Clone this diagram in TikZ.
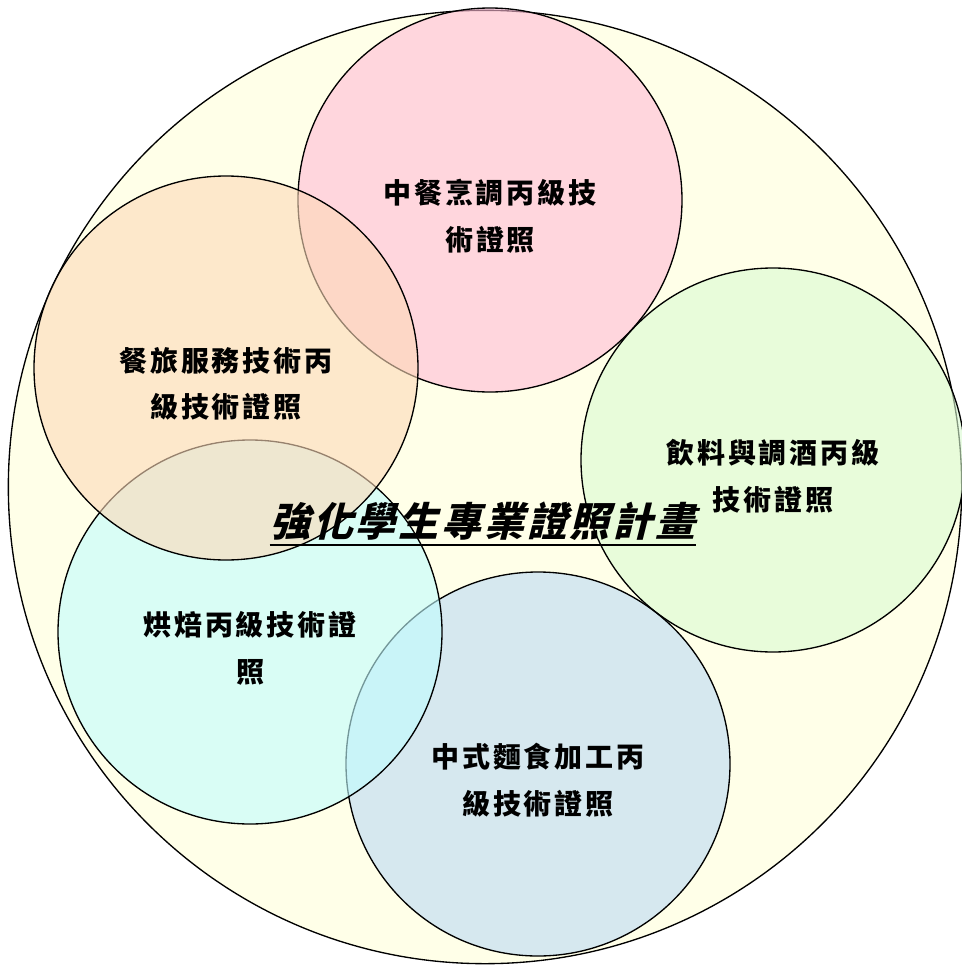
\documentclass[tikz,border=0pt]{standalone}
\usepackage{fontspec}
\newfontfamily\cjk[LetterSpace=10]{Noto Sans CJK TC}
\newfontfamily\cjktitle[FakeSlant=0.25,LetterSpace=7]{Noto Sans CJK TC}

\definecolor{planyellow}{RGB}{255,255,232}
\definecolor{cookpink}{RGB}{255,187,214}
\definecolor{servorange}{RGB}{252,217,184}
\definecolor{drinkgreen}{RGB}{217,250,209}
\definecolor{bakecyan}{RGB}{193,252,255}
\definecolor{noodleblue}{RGB}{187,218,244}

\tikzset{every picture/.style={line width=1pt}}
\tikzset{
  ring/.style={circle, draw=black, fill opacity=0.6, minimum size=288pt, inner sep=0pt},
  lbl/.style={font=\cjk\bfseries\fontsize{21}{35}\selectfont, align=center, inner sep=0pt},
}

\begin{document}
\begin{tikzpicture}[x=0.75pt,y=0.75pt,yscale=-1,xscale=1]
\useasboundingbox (0,0) rectangle (961,967);

%Outer circle
\node [circle, draw=black, fill=planyellow, minimum size=715pt, inner sep=0pt] (plan) at (485,487) {};

%Circles
\node [ring, fill=drinkgreen] (drink) at (773,460) {};
\node [ring, fill=noodleblue] (noodle) at (538,764) {};
\node [ring, fill=bakecyan] (bake) at (250,632) {};
\node [ring, fill=cookpink] (cook) at (490,200) {};
\node [ring, fill=servorange] (serv) at (226,368) {};

% Text Node
\node [lbl] (cooktext) at ([yshift=12pt]cook.center) {中餐烹調丙級技\\術證照};
% Text Node
\node [lbl] (servtext) at ([yshift=12pt]serv.center) {餐旅服務技術丙\\級技術證照};
% Text Node
\node [lbl] (drinktext) at ([yshift=12pt]drink.center) {飲料與調酒丙級\\技術證照};
% Text Node
\node [lbl] (baketext) at ([yshift=12pt]bake.center) {烘焙丙級技術證\\照};
% Text Node
\node [lbl] (noodletext) at ([yshift=12pt]noodle.center) {中式麵食加工丙\\級技術證照};

% Title
\node [font=\cjktitle\bfseries\fontsize{30}{32}\selectfont, inner sep=0pt] (title) at (483,521) {強化學生專業證照計畫};
\draw [line width=2pt] ([yshift=3pt]title.south west) -- ([yshift=3pt]title.south east);
\end{tikzpicture}
\end{document}
